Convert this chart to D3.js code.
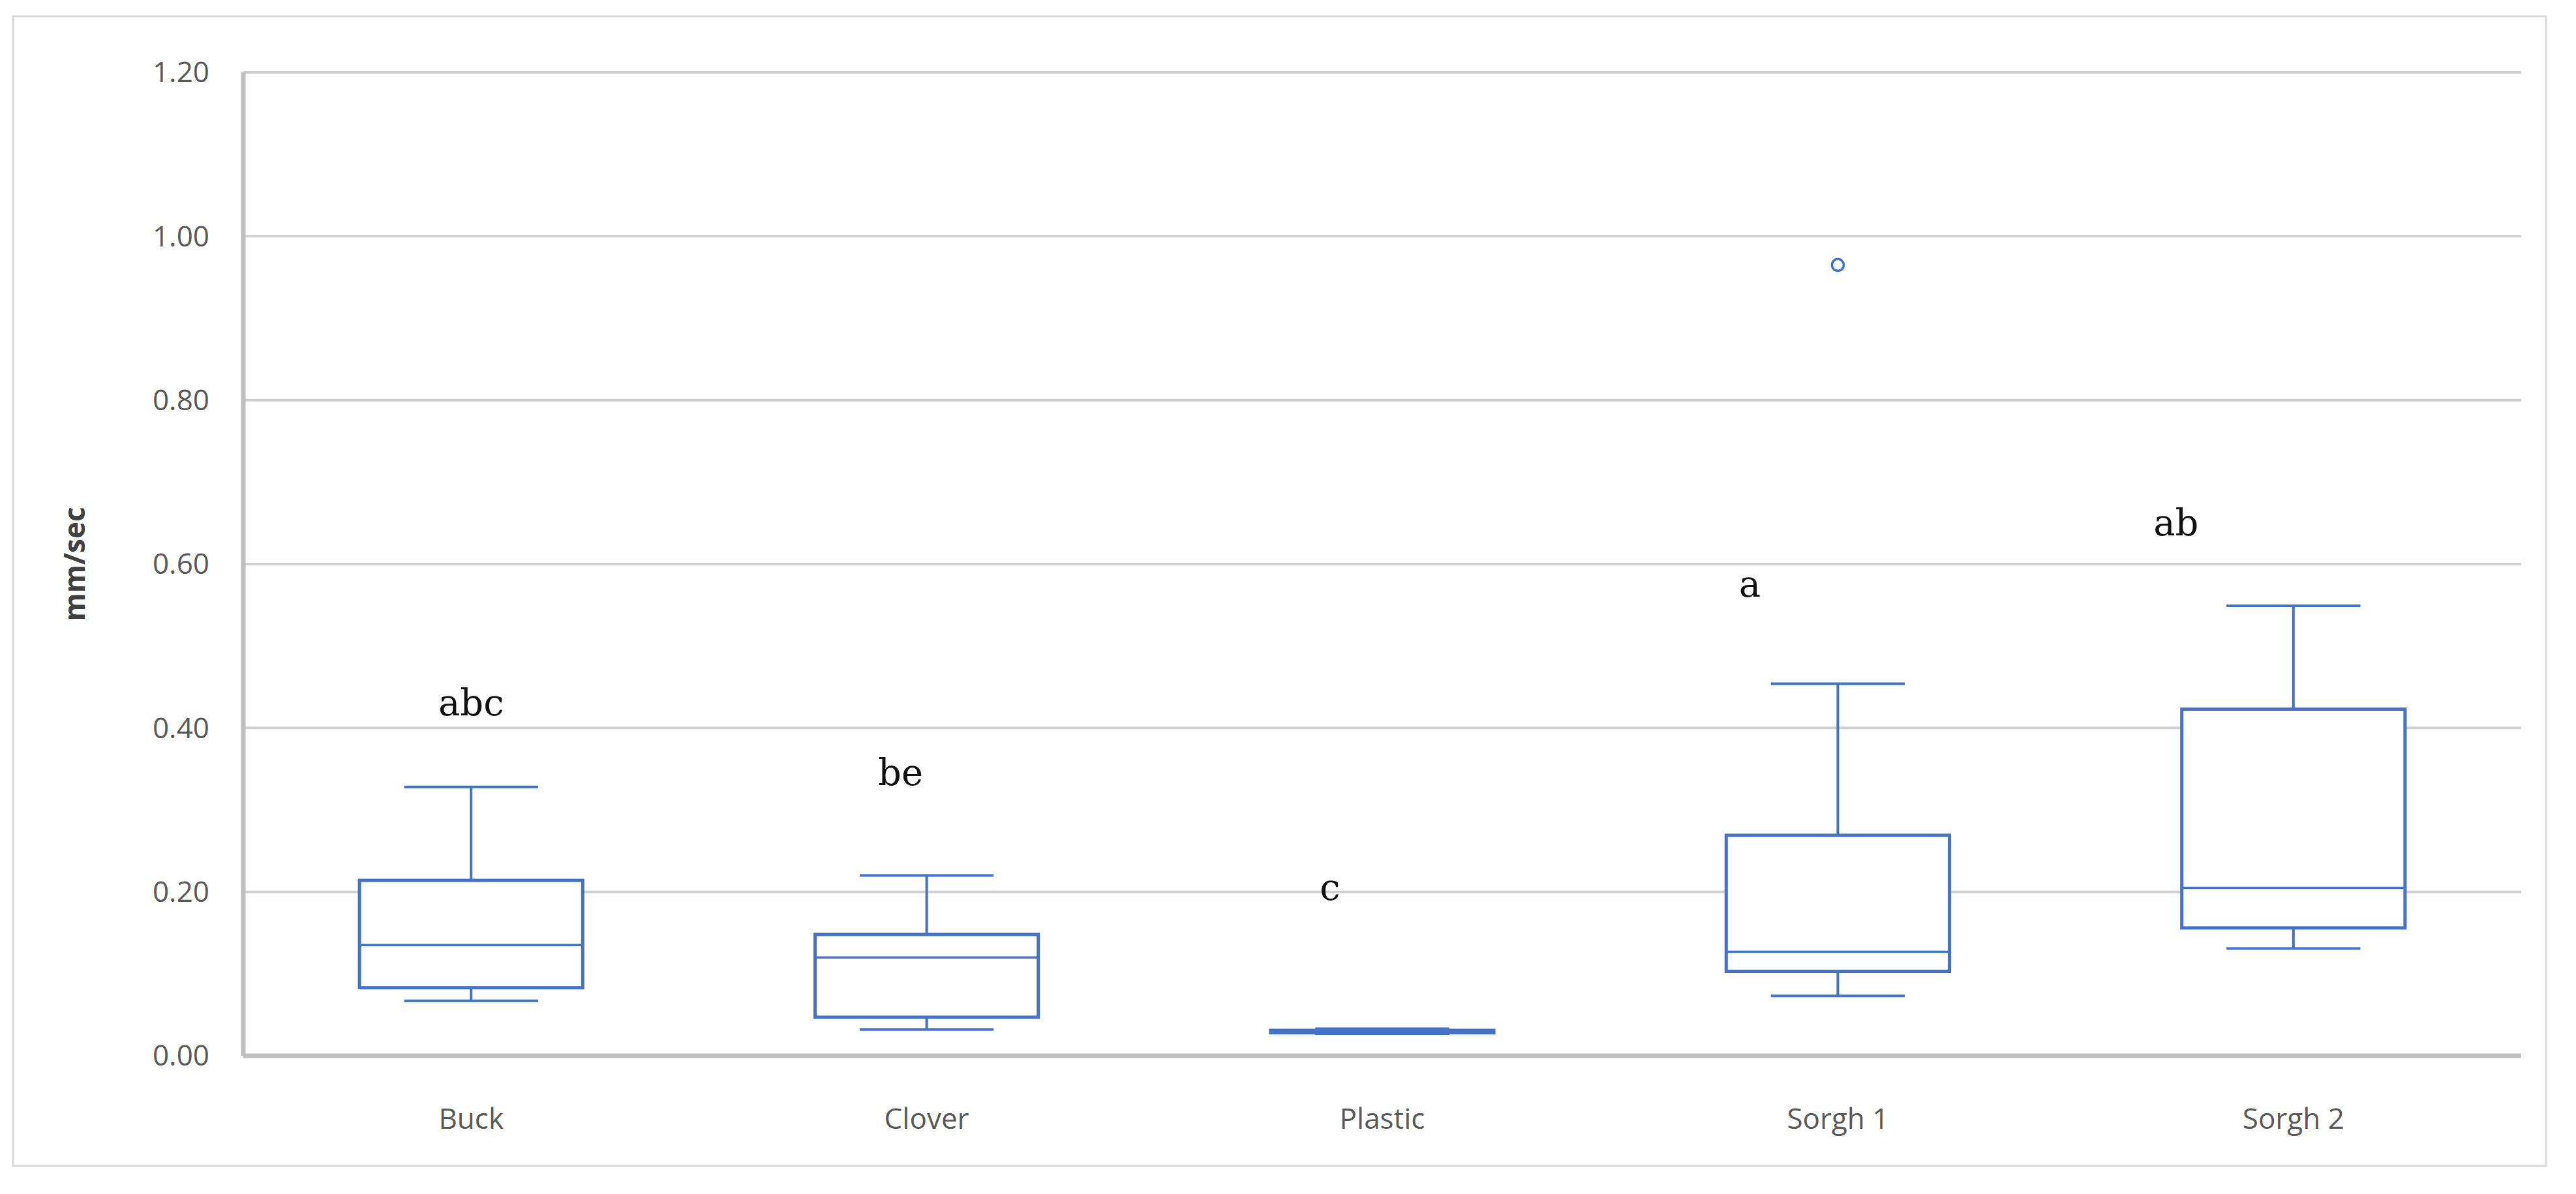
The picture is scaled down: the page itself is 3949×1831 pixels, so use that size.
<!DOCTYPE html>
<html>
<head>
<meta charset="utf-8">
<script src="https://cdn.jsdelivr.net/npm/d3@7"></script>
<style>
  body { margin: 0; background: #fff; }
</style>
</head>
<body>
<svg id="chart" width="3949" height="1831"></svg>
<script>
// box plot summaries
var categories = ["Buck", "Clover", "Plastic", "Sorgh 1", "Sorgh 2"];
var mins    = [0.067, 0.032, 0.027, 0.073, 0.131];
var q1s     = [0.083, 0.047, 0.028, 0.103, 0.156];
var medians = [0.135, 0.120, 0.030, 0.127, 0.205];
var q3s     = [0.214, 0.148, 0.031, 0.269, 0.423];
var maxs    = [0.328, 0.220, 0.033, 0.454, 0.549];
var outliers = [{cat: "Sorgh 1", value: 0.965}];
var letters = ["abc", "be", "c", "a", "ab"];
var letterValues = [0.415, 0.33, 0.19, 0.56, 0.635];
var yTicks = [0, 0.2, 0.4, 0.6, 0.8, 1.0, 1.2];

var svg = d3.select("#chart");
var margin = {left: 373, right: 84, top: 111, bottom: 212};
var W = 3949, H = 1831;
var blue = "#4472C4";

// outer frame
svg.append("rect").attr("x", 20).attr("y", 25).attr("width", 3883).attr("height", 1763)
  .attr("fill", "none").attr("stroke", "#d9d9d9").attr("stroke-width", 3);

var x = d3.scaleBand().domain(categories)
  .range([margin.left, W - margin.right]).padding(0);
var y = d3.scaleLinear().domain([0, 1.2]).range([H - margin.bottom, margin.top]);

// gridlines
svg.append("g").selectAll("line").data(yTicks.slice(1)).join("line")
  .attr("x1", margin.left).attr("x2", W - margin.right)
  .attr("y1", d => y(d)).attr("y2", d => y(d))
  .attr("stroke", "#d0d0d0").attr("stroke-width", 4);

// axes lines
svg.append("line").attr("x1", margin.left).attr("x2", margin.left)
  .attr("y1", y(0)).attr("y2", y(1.2)).attr("stroke", "#bfbfbf").attr("stroke-width", 7);
svg.append("line").attr("x1", margin.left).attr("x2", W - margin.right)
  .attr("y1", y(0)).attr("y2", y(0)).attr("stroke", "#bfbfbf").attr("stroke-width", 7);

// y tick labels
svg.append("g").selectAll("text").data(yTicks).join("text")
  .attr("x", margin.left - 52).attr("y", d => y(d)).attr("dy", "0.35em")
  .attr("text-anchor", "end").attr("font-family", "Open Sans, sans-serif")
  .attr("font-size", 44).attr("fill", "#595959")
  .text(d => d3.format(".2f")(d));

// x labels
svg.append("g").selectAll("text").data(categories).join("text")
  .attr("x", d => x(d) + x.bandwidth() / 2).attr("y", y(0) + 112)
  .attr("text-anchor", "middle").attr("font-family", "Open Sans, sans-serif")
  .attr("font-size", 44).attr("fill", "#595959").text(d => d);

// y title
svg.append("text").attr("transform", "translate(130," + y(0.6) + ") rotate(-90)")
  .attr("text-anchor", "middle").attr("font-family", "Open Sans, sans-serif")
  .attr("font-weight", "bold").attr("font-size", 44).attr("fill", "#404040").text("mm/sec");

var boxW = x.bandwidth() * 0.49, capW = boxW * 0.3;
var g = svg.append("g").attr("stroke", blue).attr("fill", "none").attr("stroke-width", 4);
categories.forEach(function(c, i) {
  var cx = x(c) + x.bandwidth() / 2;
  g.append("line").attr("x1", cx).attr("x2", cx).attr("y1", y(maxs[i])).attr("y2", y(q3s[i]));
  g.append("line").attr("x1", cx).attr("x2", cx).attr("y1", y(q1s[i])).attr("y2", y(mins[i]));
  g.append("line").attr("x1", cx - capW).attr("x2", cx + capW).attr("y1", y(maxs[i])).attr("y2", y(maxs[i]));
  g.append("line").attr("x1", cx - capW).attr("x2", cx + capW).attr("y1", y(mins[i])).attr("y2", y(mins[i]));
  g.append("rect").attr("x", cx - boxW / 2).attr("width", boxW)
    .attr("y", y(q3s[i])).attr("height", y(q1s[i]) - y(q3s[i])).attr("fill", "#fff").attr("stroke-width", 5);
  g.append("line").attr("x1", cx - boxW / 2).attr("x2", cx + boxW / 2)
    .attr("y1", y(medians[i])).attr("y2", y(medians[i])).attr("stroke-width", 3.5);
});
outliers.forEach(function(o) {
  g.append("circle").attr("cx", x(o.cat) + x.bandwidth() / 2).attr("cy", y(o.value))
    .attr("r", 9).attr("stroke-width", 3.5).attr("fill", "#fff");
});

// significance letters
var letterShift = [0, -40, -80, -135, -180];
svg.append("g").selectAll("text").data(letters).join("text")
  .attr("x", (d, i) => x(categories[i]) + x.bandwidth() / 2 + letterShift[i])
  .attr("y", (d, i) => y(letterValues[i]))
  .attr("text-anchor", "middle").attr("font-family", "DejaVu Serif, serif")
  .attr("font-size", 56).attr("fill", "#111").text(d => d);
</script>
</body>
</html>
